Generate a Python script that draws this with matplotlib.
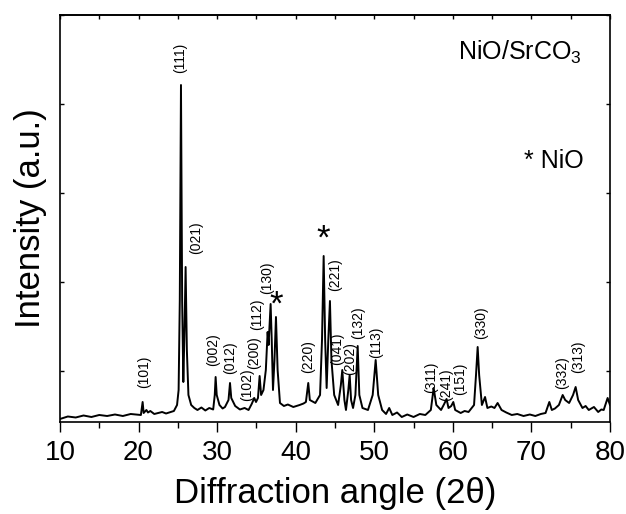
import matplotlib
matplotlib.use("Agg")
import matplotlib.pyplot as plt
from matplotlib.ticker import MultipleLocator

plt.rcParams["font.family"] = ["Liberation Sans", "DejaVu Sans"]
plt.rcParams["mathtext.fontset"] = "custom"
plt.rcParams["mathtext.rm"] = "Liberation Sans"

# ── Data (XRD trace vertices) ──────────────────────────────
two_theta = [
    10.0, 11.0, 12.0, 13.0, 14.0, 15.0, 16.0, 17.0, 18.0, 19.0,
    20.3, 20.52, 20.65, 21.0, 21.2, 21.5, 22.0, 23.0, 23.5, 24.5,
    24.9, 25.1, 25.25, 25.40, 25.55, 25.7, 25.85, 25.99, 26.15, 26.35,
    26.7, 27.1, 27.5, 28.0, 28.5, 29.0, 29.5, 29.7, 29.81, 29.95,
    30.3, 30.7, 31.0, 31.45, 31.64, 31.8, 32.3, 32.9, 33.5, 34.0,
    34.4, 34.73, 34.95, 35.2, 35.41, 35.6, 35.9, 36.2, 36.43, 36.55,
    36.81, 36.95, 37.11, 37.3, 37.49, 37.7, 38.0, 38.5, 39.0, 39.7,
    40.5, 41.0, 41.3, 41.6, 41.8, 42.5, 43.1, 43.35, 43.56, 43.75,
    43.94, 44.15, 44.36, 44.55, 44.9, 45.4, 45.75, 45.93, 46.2, 46.4,
    46.7, 46.87, 47.05, 47.3, 47.6, 47.89, 48.1, 48.5, 49.2, 49.8,
    50.18, 50.5, 51.0, 51.5, 51.9, 52.3, 52.9, 53.5, 54.2, 55.0,
    55.8, 56.5, 57.2, 57.56, 57.9, 58.5, 58.9, 59.2, 59.45, 59.8,
    60.06, 60.3, 61.0, 61.5, 62.0, 62.7, 62.95, 63.16, 63.35, 63.7,
    64.1, 64.4, 64.9, 65.3, 65.7, 66.2, 66.8, 67.5, 68.2, 69.0,
    69.8, 70.5, 71.2, 71.8, 72.28, 72.6, 73.0, 73.5, 73.98, 74.3,
    74.8, 75.3, 75.63, 75.95, 76.5, 76.9, 77.3, 77.96, 78.5, 78.9,
    79.2, 79.5, 79.7, 80.0,
]
intensity = [
    30, 55, 45, 65, 50, 70, 60, 75, 60, 80,
    70, 200, 90, 120, 95, 110, 80, 100, 85, 110,
    170, 320, 1220, 3370, 1220, 400, 920, 1550, 720, 270,
    170, 140, 120, 145, 115, 140, 125, 270, 450, 270,
    170, 135, 150, 220, 390, 240, 160, 125, 140, 120,
    180, 240, 200, 240, 460, 270, 320, 520, 900, 770,
    1180, 820, 320, 620, 1050, 520, 190, 160, 175, 150,
    170, 185, 200, 390, 220, 190, 270, 820, 1660, 820,
    340, 820, 1210, 620, 270, 170, 370, 520, 220, 120,
    320, 470, 220, 140, 270, 760, 270, 140, 120, 270,
    620, 270, 120, 80, 140, 70, 95, 50, 75, 50,
    80, 70, 120, 340, 170, 120, 180, 230, 140, 160,
    200, 120, 90, 110, 100, 170, 470, 750, 470, 170,
    250, 140, 155, 140, 190, 120, 95, 70, 80, 60,
    75, 60, 80, 90, 200, 120, 135, 170, 270, 220,
    190, 270, 350, 220, 140, 160, 120, 150, 100, 125,
    120, 190, 240, 170,
]

# peak labels (Miller indices) and where they sit
hkl_labels = ["(101)", "(111)", "(021)", "(002)", "(012)", "(102)", "(200)",
              "(112)", "(130)", "(220)", "(221)", "(041)", "(202)", "(132)",
              "(113)", "(311)", "(241)", "(151)", "(330)", "(332)", "(313)"]
hkl_x = [20.69, 25.27, 27.31, 29.47, 31.64, 33.80, 34.69, 35.07, 36.35, 41.56,
         45.0, 45.3, 46.9, 47.98, 50.22, 57.22, 59.13, 60.91, 63.58, 73.89,
         75.93]
hkl_y = [500, 3640, 1840, 720, 640, 370, 690, 1080, 1440, 650,
         1470, 730, 630, 990, 800, 450, 370, 430, 990, 490, 650]

# NiO peaks marked with a star
nio_x = [37.49, 43.56]
nio_y = [1170, 1830]

# ── Plot ───────────────────────────────────────────────────
fig = plt.figure(figsize=(6.26, 5.14), dpi=100)
ax = fig.add_axes([0.0958, 0.179, 0.8786, 0.7918])

ax.plot(two_theta, intensity, color="black", linewidth=1.4)

for lab, x, y in zip(hkl_labels, hkl_x, hkl_y):
    ax.text(x, y, lab, rotation=90, ha="center", va="center", fontsize=10)

for x, y in zip(nio_x, nio_y):
    ax.text(x, y, "*", ha="center", va="center", fontsize=25)

ax.text(0.948, 0.889, "NiO/SrCO$_3$", transform=ax.transAxes,
        ha="right", va="baseline", fontsize=18)
ax.text(0.953, 0.624, "* NiO", transform=ax.transAxes,
        ha="right", va="baseline", fontsize=18)

ax.set_xlim(10, 80)
ax.set_ylim(0, 4070)
ax.xaxis.set_major_locator(MultipleLocator(10))
ax.xaxis.set_minor_locator(MultipleLocator(5))
ax.set_yticks([510, 1400, 2290, 3180, 4070])
ax.set_yticklabels([])

ax.tick_params(axis="x", which="major", direction="out", length=7, width=1,
               labelsize=20, pad=6, top=False)
ax.tick_params(axis="x", which="minor", direction="out", length=4.5, width=1,
               top=False)
ax.tick_params(axis="y", which="major", direction="in", length=3, width=1,
               right=True)

# inward ticks along the top frame
sec = ax.secondary_xaxis("top")
sec.xaxis.set_major_locator(MultipleLocator(5))
sec.tick_params(direction="in", length=3, width=1, labeltop=False)
sec.spines["top"].set_linewidth(1.2)

for s in ax.spines.values():
    s.set_linewidth(1.2)

ax.set_xlabel("Diffraction angle (2θ)", fontsize=25, labelpad=8)
ax.set_ylabel("Intensity (a.u.)", fontsize=25, labelpad=6)

fig.savefig("out.png", dpi=100)
